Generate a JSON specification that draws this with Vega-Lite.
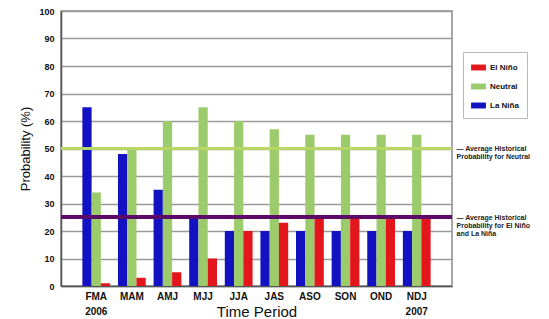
{
  "$schema": "https://vega.github.io/schema/vega-lite/v6.json",
  "width": 391,
  "height": 275,
  "autosize": {"type": "none"},
  "padding": {"left": 61, "top": 11, "right": 97, "bottom": 33},
  "background": "white",
  "config": {
    "font": "Liberation Sans",
    "view": {"stroke": "#8a8a8a", "strokeWidth": 1.5}
  },
  "data": {
    "values": [
      {"period": "FMA", "phase": "La Niña", "p": 65},
      {"period": "FMA", "phase": "Neutral", "p": 34},
      {"period": "FMA", "phase": "El Niño", "p": 1},
      {"period": "MAM", "phase": "La Niña", "p": 48},
      {"period": "MAM", "phase": "Neutral", "p": 50},
      {"period": "MAM", "phase": "El Niño", "p": 3},
      {"period": "AMJ", "phase": "La Niña", "p": 35},
      {"period": "AMJ", "phase": "Neutral", "p": 60},
      {"period": "AMJ", "phase": "El Niño", "p": 5},
      {"period": "MJJ", "phase": "La Niña", "p": 25},
      {"period": "MJJ", "phase": "Neutral", "p": 65},
      {"period": "MJJ", "phase": "El Niño", "p": 10},
      {"period": "JJA", "phase": "La Niña", "p": 20},
      {"period": "JJA", "phase": "Neutral", "p": 60},
      {"period": "JJA", "phase": "El Niño", "p": 20},
      {"period": "JAS", "phase": "La Niña", "p": 20},
      {"period": "JAS", "phase": "Neutral", "p": 57},
      {"period": "JAS", "phase": "El Niño", "p": 23},
      {"period": "ASO", "phase": "La Niña", "p": 20},
      {"period": "ASO", "phase": "Neutral", "p": 55},
      {"period": "ASO", "phase": "El Niño", "p": 25},
      {"period": "SON", "phase": "La Niña", "p": 20},
      {"period": "SON", "phase": "Neutral", "p": 55},
      {"period": "SON", "phase": "El Niño", "p": 25},
      {"period": "OND", "phase": "La Niña", "p": 20},
      {"period": "OND", "phase": "Neutral", "p": 55},
      {"period": "OND", "phase": "El Niño", "p": 25},
      {"period": "NDJ", "phase": "La Niña", "p": 20},
      {"period": "NDJ", "phase": "Neutral", "p": 55},
      {"period": "NDJ", "phase": "El Niño", "p": 25}
    ]
  },
  "resolve": {"axis": {"y": "independent"}},
  "layer": [
    {
      "mark": {"type": "bar"},
      "encoding": {
        "x": {
          "field": "period",
          "type": "nominal",
          "sort": null,
          "scale": {"paddingInner": 0.22, "paddingOuter": 0.6},
          "axis": {
            "title": "Time Period",
            "titleFontSize": 15,
            "titleFontWeight": "normal",
            "titleColor": "#111",
            "titleY": 30,
            "titleBaseline": "alphabetic",
            "labelAngle": 0,
            "labelFontSize": 10,
            "labelFontWeight": "bold",
            "labelColor": "#111",
            "labelLineHeight": 15,
            "labelPadding": 5,
            "labelExpr": "datum.value == 'FMA' ? ['FMA', '2006'] : datum.value == 'NDJ' ? ['NDJ', '2007'] : datum.value",
            "ticks": false,
            "domainColor": "#555",
            "domainWidth": 1.5
          }
        },
        "xOffset": {"field": "phase", "type": "nominal", "sort": ["La Niña", "Neutral", "El Niño"]},
        "y": {
          "field": "p",
          "type": "quantitative",
          "scale": {"domain": [0, 100]},
          "axis": {
            "title": "Probability (%)",
            "titleFontSize": 13,
            "titleFontWeight": "normal",
            "titleColor": "#111",
            "titlePadding": 6,
            "values": [0, 10, 20, 30, 40, 50, 60, 70, 80, 90, 100],
            "labelFontSize": 9,
            "labelFontWeight": "bold",
            "labelColor": "#111",
            "labelPadding": 7,
            "ticks": false,
            "grid": true,
            "gridColor": "#9a9a9a",
            "gridWidth": 1.5,
            "domainColor": "#555",
            "domainWidth": 1.5
          }
        },
        "color": {
          "field": "phase",
          "type": "nominal",
          "scale": {"domain": ["El Niño", "Neutral", "La Niña"], "range": ["#e3161b", "#9ccb6c", "#1212c2"]},
          "legend": {
            "title": null,
            "orient": "none",
            "legendX": 402,
            "legendY": 41,
            "strokeColor": "#bbb",
            "fillColor": "white",
            "padding": 8,
            "rowPadding": 7,
            "symbolType": "M-1,-0.4L1,-0.4L1,0.4L-1,0.4Z",
            "symbolSize": 220,
            "symbolStrokeWidth": 0,
            "labelFontSize": 8,
            "labelFontWeight": "bold",
            "labelColor": "#111",
            "labelOffset": 4
          }
        }
      }
    },
    {
      "mark": {"type": "rule", "color": "#b9d866", "strokeWidth": 1.5},
      "encoding": {
        "y": {
          "datum": 50,
          "type": "quantitative",
          "scale": {"domain": [0, 100]},
          "axis": {
            "orient": "right",
            "title": null,
            "values": [25, 50],
            "labelExpr": "datum.value == 50 ? ['— Average Historical', 'Probability for Neutral'] : ['— Average Historical', 'Probability for El Niño', 'and La Niña']",
            "labelBaseline": "top",
            "labelOffset": -4,
            "labelFontSize": 7,
            "labelLineHeight": 8,
            "labelFontWeight": "bold",
            "labelColor": "#222",
            "labelPadding": 4,
            "ticks": false,
            "domain": false,
            "grid": false
          }
        }
      }
    },
    {
      "mark": {"type": "rule", "color": "#5e0a6a", "strokeWidth": 3},
      "encoding": {
        "y": {"datum": 25, "type": "quantitative", "scale": {"domain": [0, 100]}, "axis": null}
      }
    }
  ]
}
